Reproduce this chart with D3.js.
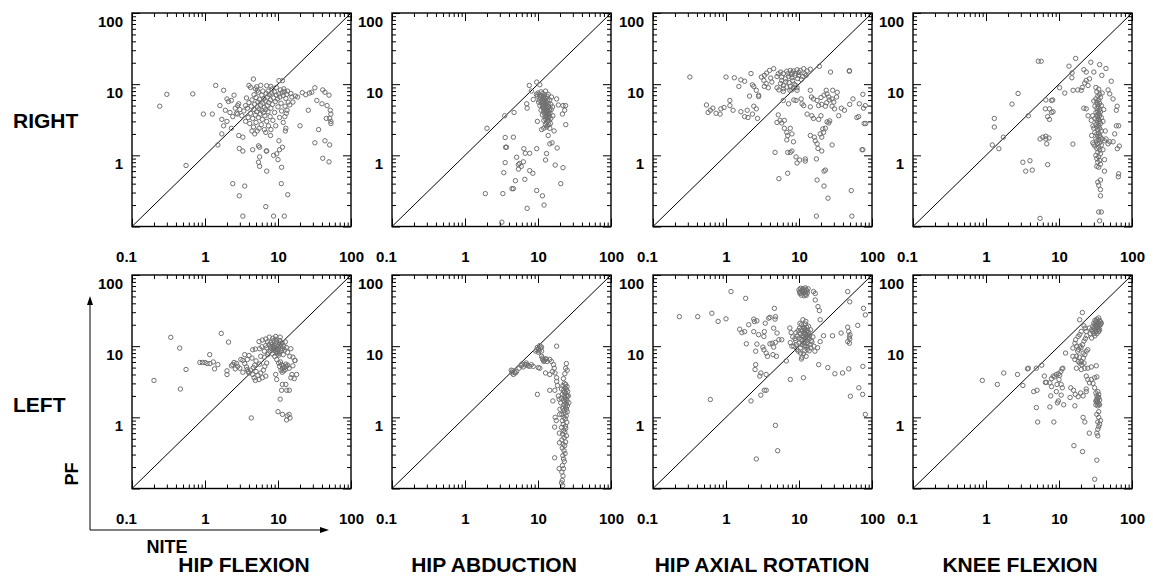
<!DOCTYPE html>
<html><head><meta charset="utf-8">
<script src="https://cdn.jsdelivr.net/npm/d3@7/dist/d3.min.js"></script>
<style>
html,body{margin:0;padding:0;background:#fff;}
text{font-family:"Liberation Sans",Arial,sans-serif;font-weight:bold;fill:#000;}
</style></head>
<body><svg id="chart" width="1153" height="578"></svg>
<script>
const rowLabels = ["RIGHT", "LEFT"];
const colLabels = ["HIP FLEXION", "HIP ABDUCTION", "HIP AXIAL ROTATION", "KNEE FLEXION"];
const xTickValues = [0.1, 1, 10, 100];
const xTickLabels = ["0.1", "1", "10", "100"];
const yTickValues = [1, 10, 100];
const yTickLabels = ["1", "10", "100"];
const xAxisName = "NITE";
const yAxisName = "PF";

// [NITE, PF] pairs
const rightHipFlexion = [[0.24,4.9],[0.3,7.2],[0.68,7.3],[0.55,0.72],[0.95,3.8],[1.26,3.8],[1.4,9.6],[1.6,5],[1.5,1.4],[1.8,8.2],[1.9,4.3],[1.7,3.2],[1.8,2.6],[1.7,2.0],[2.0,6.2],[2.1,5.7],[2.3,5.9],[2.5,7.0],[2.8,5.0],[2.4,3.5],[2.8,3.8],[2.3,2.4],[2.9,1.9],[3.3,1.8],[2.95,1.25],[3.3,1.15],[2.4,0.40],[3.5,0.37],[2.95,0.27],[3.3,0.14],[4.6,11.8],[4.0,9.6],[4.2,9.0],[5.1,9.2],[5.2,8.2],[4.5,1.2],[5.4,1.36],[5.6,1.3],[5.6,0.95],[5.4,0.8],[5.6,0.7],[7,0.6],[6.9,1.15],[8.7,1.0],[9.6,1.05],[10.5,1.2],[11.5,1.3],[10,0.87],[11.2,0.68],[11.1,0.40],[13.6,0.28],[6.8,0.19],[8.7,0.14],[12.2,0.14],[10.3,11.2],[11.5,11.2],[8,9.3],[7.3,8.0],[17.3,6.8],[18.6,6.6],[21.5,7.6],[24,7.1],[27,7.5],[29,7.7],[32,8.9],[41,8.3],[44,7.7],[50,7.0],[34,5.9],[40,5.3],[47,5.0],[52,4.3],[53,3.8],[51,3.3],[53,3.0],[53,2.8],[46,3.3],[36,2.3],[32,1.5],[44,1.6],[51,1.4],[41,0.91],[50,0.81],[26,4.3],[20,2.6],[14.5,5.1],[13.3,4.3],[12.8,2.4],[12.6,2.2],[10.3,1.6],[7.9,1.9],[7,1.15],
[3.2,3.6],[3.4,4.2],[3.6,3.0],[3.8,4.6],[3.9,3.4],[4.0,5.5],[4.1,2.8],[4.2,3.9],[4.3,4.9],[4.4,6.0],[4.5,3.3],[4.6,2.5],[4.7,4.4],[4.8,5.2],[4.9,3.7],[5.0,6.5],[5.0,2.9],[5.1,4.1],[5.2,4.8],[5.3,5.6],[5.4,3.4],[5.5,2.4],[5.5,4.5],[5.6,6.1],[5.7,3.8],[5.8,5.1],[5.9,2.7],[6.0,4.3],[6.0,7.0],[6.1,3.2],[6.2,5.4],[6.3,4.0],[6.4,6.3],[6.5,2.3],[6.5,4.7],[6.6,3.6],[6.7,5.8],[6.8,4.4],[6.9,7.4],[7.0,3.0],[7.1,5.0],[7.2,6.6],[7.3,4.1],[7.4,2.6],[7.5,5.5],[7.6,7.1],[7.8,3.5],[7.9,6.0],[8.0,4.6],[8.2,7.5],[8.4,5.2],[8.5,3.1],[8.7,6.4],[8.9,7.8],[9.0,4.0],[9.2,5.7],[9.5,7.0],[9.8,6.2],[10.0,4.8],[10.3,7.3],[10.6,6.6],[11.0,5.4],[11.4,7.6],[11.8,6.9],[12.3,7.9],[12.8,6.3],[13.2,7.2],[13.8,5.6],[12.5,4.9],[13.0,3.9],[12.4,3.5],[11.8,2.9],[3.6,5.0],[3.0,4.4],[2.7,3.9],[4.4,2.2],[5.2,2.2],[6.8,2.1],[8.0,2.3],[9.3,2.6],[10.5,3.4],[11.2,4.2],[6.2,8.0],[5.4,7.7],[4.7,7.1],[7.0,9.5],[8.3,8.6],[9.5,9.0],[10.8,8.3],[12.0,8.6],[13.5,8.0],[15.0,7.4],[16.0,5.6],[15.5,6.6],[3.7,6.4],[2.9,5.3],[2.6,4.6],[2.2,4.0],[2.0,3.0],[4.9,8.6],[5.8,9.6],[4.8,2.0]];

const rightHipAbduction = [[2.0,2.4],[1.9,0.29],[3.3,0.29],[3.2,0.115],[3.5,3.6],[4.7,4.0],[3.55,1.78],[4.6,1.8],[3.6,1.3],[3.7,1.3],[3.55,0.79],[3.4,0.57],[4.4,0.34],[4.6,0.34],[4.9,0.44],[5.1,0.94],[5.4,0.74],[5.6,0.77],[5.9,0.7],[5.4,0.64],[6.4,1.24],[6.7,1.07],[7.7,1.07],[6.3,0.81],[6.6,0.46],[7.7,0.61],[8.5,0.56],[7.1,0.18],[9.6,0.32],[11.5,0.27],[12.1,0.2],[12.7,0.86],[13.1,1.06],[9.6,1.24],[14.5,1.45],[15.6,1.5],[18.3,1.27],[17.2,0.73],[22,0.67],[20.5,0.4],[7.6,9.6],[9.6,10.7],[10.6,9.8],[8.1,8.0],[8.6,6.1],[7.0,5.3],[7.1,4.6],[9.8,3.0],[11.2,2.3],[13.1,2.5],[16.6,2.2],[13.8,1.9],[15.3,6.6],[18,6.2],[19,5.1],[22,5.0],[23.2,4.3],[23.9,5.0],[21.6,3.8],[24,2.7],
[10.0,7.5],[10.5,7.0],[11.0,7.8],[10.8,6.5],[11.3,6.9],[11.6,7.4],[10.4,6.0],[11.0,5.8],[11.5,6.2],[12.0,6.6],[12.3,7.1],[11.2,5.4],[11.8,5.6],[12.3,5.9],[12.8,6.3],[13.3,6.8],[11.5,5.0],[12.0,5.1],[12.5,5.3],[13.0,5.6],[13.5,5.9],[11.8,4.6],[12.3,4.7],[12.8,4.9],[13.3,5.0],[13.8,5.3],[12.0,4.2],[12.5,4.3],[13.0,4.4],[13.5,4.6],[14.0,4.8],[12.2,3.9],[12.8,3.9],[13.3,4.0],[13.8,4.2],[14.4,4.3],[12.5,3.5],[13.0,3.6],[13.5,3.7],[14.0,3.8],[14.6,3.9],[12.8,3.2],[13.3,3.3],[13.8,3.4],[14.3,3.5],[13.0,2.9],[13.6,3.0],[14.1,3.1],[12.6,2.7],[13.4,2.6],[14.0,2.7],[12.0,3.1],[11.5,3.7],[11.0,4.3],[10.6,5.0],[10.2,5.6],[9.8,6.8],[9.5,7.2],[12.7,8.0],[13.8,7.2],[14.5,6.0],[15.0,5.2],[15.2,4.4],[15.0,3.3],[14.8,2.8],[16.0,3.6],[15.8,4.8],[12.0,2.4],[14.5,2.4]];

const rightHipAxialRotation = [[0.32,12.6],[1.0,12.6],[1.3,12.3],[1.6,11.5],[1.8,11],[1.5,9.3],[2.2,14.1],[2.3,9.8],[2.4,9.3],[0.54,5.1],[0.57,4.0],[0.66,4.6],[0.61,4.3],[0.73,3.9],[0.83,3.8],[0.85,4.5],[0.94,4.7],[1.13,5.9],[1.13,5.0],[1.25,4.3],[1.6,4.1],[1.95,4.3],[1.8,3.5],[2.0,3.4],[2.1,6.8],[2.4,4.9],[2.6,4.5],[2.3,3.8],[2.7,3.3],[2.6,8.2],[2.8,7],[2.8,6.7],[3.05,12.6],[3.3,11.3],[3.35,13.3],[3.6,14.3],[3.95,15.6],[4.5,16.5],[3.55,10.2],[3.35,9.3],[3.8,8.9],[4.25,10.7],[4.1,12.2],
[5.6,14.8],[6.1,14.1],[6.8,15.2],[7.6,15.6],[8.4,15.3],[9.4,15.9],[10.4,15.6],[11.6,16.5],[12.9,15.3],[14.3,16.2],[5.8,12.6],[6.5,11.9],[7.2,12.8],[8.0,12.3],[8.9,13.3],[9.9,13.3],[11.3,12.8],[12.5,13.3],[5.6,10.2],[6.1,9.6],[6.8,9.1],[7.6,9.3],[8.4,8.9],[9.4,8.9],[7.5,8.2],[8.0,8.3],[6.1,8.6],[9.4,8.2],[5.8,11.3],[5.0,8.9],[5.3,8.3],[6.1,7.9],[7.0,14.0],[8.0,14.5],[9.0,14.2],[10.0,14.6],[7.3,10.5],[8.6,10.0],[9.0,9.6],[8.2,11.2],[6.6,10.8],[7.8,13.6],[9.6,12.0],[10.8,11.6],[12.0,14.0],[5.2,14.0],[5.0,12.8],
[6.1,5.9],[5.2,3.7],[5,2.9],[5.5,3.1],[5.8,2.85],[6.3,3.1],[6.3,2.4],[6.8,2.1],[7.6,2.4],[8.0,2.0],[7.0,1.9],[6.8,1.65],[8.4,1.55],[4.7,1.1],[7.0,1.1],[7.6,1.1],[8.0,1.15],[9.1,0.95],[9.4,0.78],[10.2,0.86],[12.2,0.89],[12.2,0.83],[7.0,0.56],[5.3,0.47],[17.3,0.89],[17.7,0.45],[17.3,0.14],[22,0.6],[23,0.62],[22,0.37],[25,0.25],[52,0.32],[53,0.14],[73,1.2],[75,1.2],
[9.1,5.9],[10.7,6.2],[11.0,5.3],[11.6,5.0],[14.3,8.2],[14.8,6.6],[15.8,6.2],[17.7,5.9],[18.6,5.0],[20.5,5.2],[23,4.9],[23.6,8.2],[24.2,7.3],[25.6,6.6],[28.4,6.2],[29,8.2],[33.4,7.7],[32.7,6.6],[28.4,4.9],[30.6,4.5],[35,3.6],[41.9,4.3],[49.5,5.2],[54.9,6.2],[67,5.3],[76.5,4.6],[81,5.0],[65.5,3.5],[62,3.4],[78,2.8],[82,2.8],[75,7.2],
[14.3,4.8],[12.9,3.8],[15,3.6],[15.8,3.3],[18.6,3.2],[20,3.6],[14.3,1.9],[16.2,1.8],[16.7,1.6],[17.7,1.45],[18.2,1.25],[19.5,2.0],[20.5,1.8],[21.7,2.1],[21.2,2.35],[23,2.4],[24.2,2.95],[25.6,2.85],[26.3,3.05],[20.5,1.15],[27,14.8],[19,17.8],[49,15.5],[49,15.2],[28.4,1.4],[22,7.0],[20,6.5],[26,6.0],[24,5.5],[30,5.6],[38,4.6],[8.5,6.0],[7.2,5.3]];

const rightKneeFlexion = [[1.22,1.4],[1.3,3.3],[1.3,2.5],[1.5,1.24],[1.73,1.8],[2.27,5.25],[2.75,7.4],[3.8,3.6],[3.2,0.8],[4.0,0.84],[3.5,0.6],[4.3,0.62],[5.2,21],[5.7,21],[5.5,1.7],[6.0,1.8],[6.6,1.7],[6.8,1.45],[6.6,1.85],[7.3,1.75],[7.0,0.74],[5.5,0.13],[6.6,6.0],[7.9,5.9],[8.2,6.0],[6.5,4.5],[7.4,4.5],[7.0,3.5],[7.4,3.2],[7.9,4.0],[8.3,4.1],[10.2,8.9],[12.0,7.5],[13.7,17.9],[15.1,14.4],[15,12.3],[16.9,23],[21.9,16],[23.6,14.8],[27.3,20.3],[30,14.8],[36,18.8],[38.6,13.3],[44,16.6],[52,11],[15.5,1.44],[15.6,8.2],[18.1,8.3],[20.2,8.2],[21.9,4.6],[23.6,4.5],[25,3.6],[27.7,3.1],[29.2,2.6],[30,1.43],[22.5,10.4],[23.6,11.3],[25,9.6],[26.2,11.9],[20.8,9.0],
[42,0.6],[42,0.87],[47,1.45],[42,1.6],[49.6,1.55],[55,1.55],[58,2.0],[61,2.6],[65.7,2.6],[62.6,4.9],[61,4.3],[63,1.24],[67,1.35],[65,0.5],[65.7,0.55],[55,6.2],[49.6,7.3],[47,8.3],
[37,0.45],[34,0.42],[35,0.38],[37,0.33],[37,0.27],[35,0.16],[38,0.16],[36,0.12],
[32,9.0],[35,8.5],[33,7.8],[36,7.2],[34,6.8],[37,6.5],[32,6.2],[35,6.0],[33,5.6],[36,5.4],[34,5.2],[38,5.0],[31,4.9],[35,4.8],[33,4.6],[36,4.4],[34,4.2],[37,4.1],[32,4.0],[35,3.9],[33,3.7],[36,3.6],[34,3.5],[38,3.4],[31,3.3],[35,3.2],[33,3.1],[36,3.0],[34,2.9],[37,2.8],[32,2.7],[35,2.6],[33,2.5],[36,2.4],[34,2.3],[38,2.2],[31,2.1],[35,2.05],[33,2.0],[36,1.9],[34,1.85],[37,1.8],[32,1.7],[35,1.65],[33,1.6],[36,1.5],[34,1.45],[38,1.4],[31,1.35],[35,1.3],[33,1.25],[36,1.2],[34,1.1],[37,1.05],[32,1.0],[35,0.95],[33,0.9],[36,0.85],[34,0.8],[37,0.75],[33,0.7],[35,0.68],[39,1.7],[40,1.2],[29,1.5],[30,2.4],[40,3.0],[30,5.8],[39,7.5],[41,4.4],[28,1.9],[43,2.2],[44,1.7],[29,3.6]];

const leftHipFlexion = [[0.34,13.3],[0.45,9.4],[0.2,3.3],[0.46,2.5],[0.55,4.7],[1.67,15.1],[2.1,11.4],[1.16,7.6],[0.85,5.9],[0.92,5.9],[1.0,5.9],[1.07,5.7],[1.17,5.7],[1.3,6.0],[1.35,4.8],[1.5,5.5],
[2.0,4.5],[2.0,4.0],[2.3,5.3],[2.5,5.9],[2.7,5.7],[2.8,5.2],[3.0,4.9],[3.1,6.5],[3.3,6.3],[3.5,5.7],[3.7,5.1],[3.8,4.7],[4.0,4.2],[4.5,4.0],[4.7,3.6],[4.9,3.3],[5.5,3.4],[6.1,3.6],[6.8,3.8],[3.5,7.6],[4.0,7.4],[3.8,6.5],[4.5,8.9],[4.9,9.1],[5.5,11.6],[6.1,12.2],[6.8,12.6],[7.6,13.4],[8.5,12.9],[9.3,13.7],[10.7,13.4],[4.3,0.98],
[4.2,4.6],[4.6,5.0],[5.0,4.4],[5.3,3.9],[5.8,4.2],[6.3,4.6],[6.6,5.2],[7.0,5.8],[5.6,5.6],[5.0,6.2],[4.4,6.8],[5.8,7.2],[6.5,7.0],[7.2,7.6],[4.8,5.4],[3.9,4.4],[3.3,4.3],[2.6,4.8],[2.4,5.5],
[7.0,9.5],[7.5,10.5],[7.8,8.5],[8.0,11.2],[8.2,9.2],[8.4,7.8],[8.5,10.0],[8.7,8.8],[8.8,12.0],[9.0,9.5],[9.0,7.2],[9.2,10.8],[9.3,8.4],[9.5,9.0],[9.6,11.5],[9.8,7.8],[10.0,10.0],[10.0,8.8],[10.2,9.4],[10.4,11.0],[10.5,8.0],[10.8,9.8],[11.0,10.5],[11.2,8.6],[11.5,9.2],[11.8,7.6],[12.0,10.0],[12.3,8.8],[6.5,8.5],[6.8,10.2],[7.2,11.5],[7.4,8.0],[7.9,9.8],[8.3,10.6],[8.9,10.2],[9.4,12.5],[10.6,12.0],[11.4,11.2],[12.6,11.5],[13.0,9.6],[13.5,8.2],[8.6,9.6],[9.7,8.2],[10.3,7.5],[6.0,9.8],[5.6,9.2],[14.5,7.2],[16.0,7.0],[15.0,9.2],
[10.5,5.2],[11.0,4.6],[11.2,5.5],[11.5,4.9],[11.8,5.3],[12.0,4.5],[12.3,5.0],[12.6,4.7],[13.0,5.2],[11.4,4.3],[12.8,5.6],[10.8,6.0],[13.6,5.4],[14.2,4.9],[10.2,5.8],[9.6,6.5],[16,5.3],[18,4.0],[15.5,4.0],[17,6.3],
[9.3,4.0],[9.6,3.4],[11.5,2.9],[11.2,2.4],[13.2,2.4],[14.3,2.4],[10.7,1.8],[12.8,2.9],[15,3.6],[16.7,3.5],[10,1.2],[11.5,1.1],[13.4,1.05],[14.2,1.1],[14.6,0.98],[13.1,0.92],[17.1,6.3]];

const leftHipAbduction = [[4.3,4.6],[4.6,4.0],[4.9,4.2],[5.1,4.4],[5.5,4.9],[5.9,5.3],[6.3,5.1],[6.6,5.5],[7.0,5.5],[7.3,5.3],[7.7,5.2],[8.1,5.5],[8.6,5.2],[4.4,4.2],[4.5,4.5],[4.8,4.3],[6.0,5.6],[6.9,5.8],
[9.6,8.9],[10.1,9.1],[10.6,10.2],[11.2,9.7],[11.2,8.5],[10.1,8.2],[9.3,8.5],[10.8,9.4],[9.8,9.6],[10.4,8.6],
[11.2,7.2],[11.6,6.5],[12.0,6.1],[12.6,6.6],[13.3,6.1],[14.5,6.5],[15.3,6.1],[16.3,5.5],[16.7,4.9],[15.8,4.4],[17.1,4.2],[18.0,3.2],[18.0,3.6],[14.5,4.0],[11.5,6.8],[12.2,6.3],[13.0,6.6],[10.1,5.0],[10.6,4.9],[12.7,4.2],[18,10],[9.8,2.1],[14.5,2.4],[17,2.4],
[24.5,5.7],[23.9,4.9],[25.1,4.6],[23.3,4.1],[22.3,3.5],
[23,3.0],[24,2.9],[22,2.8],[25,2.7],[23.5,2.6],[21,2.5],[24.5,2.45],[22.5,2.4],[25.5,2.3],[23,2.25],[24,2.2],[21.5,2.1],[24.8,2.05],[22.8,2.0],[25.2,1.95],[23.5,1.9],[21,1.85],[24.2,1.8],[22.4,1.75],[25,1.7],[23.2,1.65],[20.5,1.6],[24.4,1.55],[22.6,1.5],[25.3,1.45],[23.8,1.4],[21.8,1.35],[24.6,1.3],[22.9,1.25],[25.1,1.2],[23.4,1.15],[21.2,1.1],[24.3,1.05],[22.7,1.0],[23.6,0.95],[21.5,0.9],[24.8,0.85],[22.2,0.8],[23.8,0.75],[21.0,0.72],[24.0,0.7],[22.5,0.66],[23.3,0.62],[21.7,0.58],[24.5,0.55],[22.8,0.52],[21.2,0.48],[23.9,0.45],[22.1,0.42],[23.2,0.4],[21.5,0.37],[22.7,0.34],[23.5,0.31],[21.9,0.29],[22.4,0.26],[23.0,0.24],[21.6,0.21],[22.3,0.19],[21.2,0.17],[22.0,0.15],[21.5,0.13],[21.0,0.12],[21.8,0.11],[19,2.0],[19.5,1.8],[20,1.3],[19.8,1.1],[26,2.0],[26.5,1.6],
[16.9,0.73],[16.9,0.27],[19.5,0.19],[19.7,0.44],[17.2,1.0],[16,1.7],[18.5,2.8],[17.8,0.9],[19.6,0.6]];

const leftHipAxialRotation = [[0.23,26],[0.41,26],[0.64,29],[0.78,22.3],[1.0,24.2],[1.17,58.5],[1.86,47],[0.61,1.78],
[1.54,17.3],[1.65,15.5],[1.8,16],[2.05,20],[2.4,16],[2.45,22.2],[2.65,22.7],[2.4,24],[2.8,14.5],[1.9,10.8],[2.65,10.7],[3.3,13.7],[3.35,16],[3.45,21],[4.0,25.4],[3.85,24.7],[4.6,34],[4.75,26],[4.7,24],[4.5,17.9],[5.0,15.3],[5.3,12.3],[5.8,12.3],[4.75,11.3],[4.5,9.7],[4.3,11],[4.0,10.8],[3.55,8.0],[3.2,9.7],[3.3,8.9],[3.7,7.2],[4.4,7.6],[4.9,7.2],[2.55,8.5],[2.55,5.5],[2.5,4.7],[3.0,4.2],[2.9,3.8],[3.55,4.0],[3.35,2.4],[3.55,2.4],[3.0,2.05],[2.2,1.7],[6.7,6.2],[7.6,3.4],[4.75,0.77],[5.1,0.34],[2.6,0.26],
[10.0,62],[10.5,65],[11.0,60],[11.5,64],[12.0,58],[12.5,62],[13.0,56],[10.3,55],[10.8,52],[11.3,56],[11.8,51],[12.3,54],[12.8,60],[13.3,64],[10.6,58],[11.6,60],[12.2,66],[11.1,63],[12.6,52],[10.2,58],
[15.8,58.5],[16.7,55],[16.7,44.6],[18.2,36],[19,31.6],[19.5,23.5],
[9.0,12],[9.2,10.5],[9.5,14],[9.7,16.5],[10.0,11],[10.0,13],[10.2,18],[10.4,15],[10.5,9.5],[10.7,12.5],[10.8,20],[11.0,14],[11.0,10.5],[11.2,16.5],[11.3,12],[11.5,18.5],[11.5,13.5],[11.6,15.5],[11.8,11.2],[11.9,14.5],[12.0,17],[12.1,12.8],[12.2,20.5],[12.3,15],[12.4,10],[12.5,13.8],[12.6,16],[12.7,18.5],[12.8,12],[12.9,14.6],[13.0,11],[13.2,16.5],[13.3,13.2],[13.5,15.5],[13.7,12.5],[14.0,14],[14.2,10.5],[14.4,17],[14.7,12],[10.6,16.8],[11.7,17.6],[12.4,22.3],[11.3,23.5],[10.3,21],[9.3,9.0],[9.8,8.5],[10.5,8.0],[11.5,7.8],[12.0,8.6],[13.0,9.0],[13.8,8.6],[11.0,7.0],[12.5,7.2],[14.5,9.5],[15.0,11.5],[15.5,13.5],[8.5,10.0],[8.8,12.8],[9.1,15.5],[8.2,13.5],[7.5,18],[7.8,15.5],[7.6,11.2],[8.0,10.0],[11.8,10.1],[13.5,19],[12.9,9.8],[10.8,6.6],[11.5,3.6],
[18.6,5.5],[19.5,11.6],[21.7,14],[24.8,5.0],[28.8,14],[31,4.1],[37.7,15.3],[39.5,4.2],[46.5,18.5],[48,16],[49.6,12.6],[46.5,11.6],[49.1,11],[63.8,19.6],[46.5,58.5],[49.6,42],[76.5,34],[81,27.5],[48,4.8],[75,5.2],[66,2.6],[50.6,1.98],[74.5,2.1],[81,1.1],[49,13.5],[50,14.5],[18,9.5],[16,10],[16.5,8.5]];

const leftKneeFlexion = [[0.89,3.3],[1.43,2.9],[1.75,4.2],[2.7,4.0],[3.2,2.8],[3.7,4.8],[3.8,4.9],[4.9,4.9],[5.8,5.4],[4.5,2.3],[5.0,2.4],[4.9,1.37],[5.1,0.86],
[6.3,3.8],[6.7,3.1],[6.5,3.1],[7.5,3.05],[7.9,3.5],[8.3,3.8],[8.7,3.7],[9.2,4.0],[9.8,4.1],[10.2,3.9],[10.6,4.4],[11.0,4.8],[11.3,4.9],[10.0,3.4],[10.7,2.9],[11.1,2.6],[9.4,2.9],[7.9,2.7],[7.7,2.0],[9.2,2.3],[9.5,1.6],[9.8,1.7],[10.7,2.05],[11.6,1.5],[7.5,1.4],[8.5,0.86],[14.5,2.6],[14.2,1.9],[15.8,2.4],[16.7,2.1],[12.3,8.0],
[15.5,9.4],[16.5,11.0],[16.9,12.3],[18.3,13.7],[19.2,14.5],[20.2,16.1],[20.9,29.7],[19.2,23.5],[22,19.3],[22.8,17.9],[23.6,16.1],[17.3,7.2],[15.5,7.2],[16.5,6.5],[18.3,6.1],[19.2,5.8],[20.2,6.1],[21.4,8.0],[22.6,7.6],[23.6,8.5],[24.8,8.9],[17.3,4.9],[20.2,4.7],[22.6,4.9],[24.8,4.9],[27.7,5.1],[32.4,5.3],[23.6,3.8],[24.8,3.4],[27.7,3.4],[30.8,3.6],[33,3.7],[26.2,3.05],[29.2,3.0],[30.8,2.6],[23.6,2.3],[21.4,2.0],[19.8,2.2],[23.6,2.5],[16.5,1.45],[18.3,1.95],[21.4,1.0],
[18,8.5],[19,7.0],[20,9.5],[21,10.5],[22,11.8],[23,12.8],[24,14.0],[19.5,10.0],[21.5,6.8],[20.5,5.5],[22,5.8],[18.5,9.0],[17.5,10.0],
[29,16],[30,18],[31,20],[32,22],[33,24],[34,19],[35,21],[36,23],[30,15],[31,17],[32,19],[33,18],[34,22],[35,25],[36,17],[37,20],[29,19],[30,21],[31,23],[32,16],[33,20],[34,17],[35,18],[36,20],[28,17],[37,22],[31,14],[33,15],[35,16],[26,18],[27,15],[38,21],[28,13],
[32,2.2],[33,2.0],[34,1.9],[35,2.1],[33,1.8],[32,1.7],[34,1.65],[36,1.75],[33,1.6],[35,1.55],[32,1.5],[34,1.45],[36,1.5],[33,1.7],[35,1.9],[34,2.3],[33,1.1],[35,1.0],[34,0.86],[35,0.74],[34,0.68],[33,0.6],[34,0.55],[26,0.6],[22.6,0.86],[16,0.4],[21,0.33],[33,0.25],[30.8,0.135],[35,1.2],[36,0.8],[37,0.9]];

const panelData = [
  [rightHipFlexion, rightHipAbduction, rightHipAxialRotation, rightKneeFlexion],
  [leftHipFlexion, leftHipAbduction, leftHipAxialRotation, leftKneeFlexion]
];

// ---------- layout ----------
const svg = d3.select("#chart");
const panelLeft = [132, 392, 653, 913];
const panelTop = [13, 275];
const W = 219, H = 213.5;

const minorValues = [];
[0.1, 1, 10].forEach(d => { for (let k = 2; k <= 9; k++) minorValues.push(+(k * d).toPrecision(3)); });

panelData.forEach((row, r) => {
  row.forEach((data, c) => {
    const g = svg.append("g").attr("transform", `translate(${panelLeft[c]},${panelTop[r]})`);
    const x = d3.scaleLog().domain([0.1, 100]).range([0, W]);
    const y = d3.scaleLog().domain([0.1, 100]).range([H, 0]);

    // diagonal
    g.append("line")
      .attr("x1", x(0.1)).attr("y1", y(0.1)).attr("x2", x(100)).attr("y2", y(100))
      .attr("stroke", "#000").attr("stroke-width", 1);

    // points
    g.append("g").selectAll("circle").data(data).join("circle")
      .attr("cx", d => x(d[0])).attr("cy", d => y(d[1])).attr("r", 2.2)
      .attr("fill", "none").attr("stroke", "#707070").attr("stroke-width", 1);

    // tick marks (inward), major + minor on all four sides
    const tickSets = [[xTickValues, 8], [minorValues, 4]];
    tickSets.forEach(([vals, len]) => {
      const mk = (axis, tr) => {
        const a = g.append("g").attr("transform", tr)
          .call(axis.tickValues(vals).tickSize(-len).tickFormat(""));
        a.select(".domain").remove();
        a.selectAll("line").attr("stroke", "#000").attr("stroke-width", 1);
      };
      mk(d3.axisBottom(x), `translate(0,${H})`);
      mk(d3.axisTop(x), `translate(0,0)`);
      mk(d3.axisLeft(y), `translate(0,0)`);
      mk(d3.axisRight(y), `translate(${W},0)`);
    });

    // frame
    g.append("rect").attr("x", 0).attr("y", 0).attr("width", W).attr("height", H)
      .attr("fill", "none").attr("stroke", "#000").attr("stroke-width", 1.4);

    // x tick labels
    const xl = g.append("g").attr("transform", `translate(0,${H})`)
      .call(d3.axisBottom(x).tickValues(xTickValues).tickSize(0).tickPadding(25)
        .tickFormat((d, i) => xTickLabels[i]));
    xl.select(".domain").remove();
    xl.selectAll("text").attr("font-size", 15).attr("font-family", null)
      .attr("dx", (d, i) => i === 0 ? -6 : 0);

    // y tick labels
    const yl = g.append("g")
      .call(d3.axisLeft(y).tickValues(yTickValues).tickSize(0).tickPadding(9)
        .tickFormat((d, i) => yTickLabels[i]));
    yl.select(".domain").remove();
    yl.selectAll("text").attr("font-size", 15).attr("font-family", null).attr("dy", 13);
  });
});

// row labels
const rowLabelY = [128, 412];
rowLabels.forEach((t, r) => {
  svg.append("text").attr("x", 13).attr("y", rowLabelY[r]).attr("font-size", 21).text(t);
});

// column labels
const colCenters = [244, 494, 762, 1020];
colLabels.forEach((t, c) => {
  svg.append("text").attr("x", colCenters[c]).attr("y", 572)
    .attr("text-anchor", "middle").attr("font-size", 21).text(t);
});

// axis-name arrows
const ax = svg.append("g");
ax.append("line").attr("x1", 90).attr("y1", 530).attr("x2", 90).attr("y2", 302).attr("stroke", "#000").attr("stroke-width", 1);
ax.append("path").attr("d", "M90,296 L87,305 L93,305 Z").attr("fill", "#000");
ax.append("line").attr("x1", 90).attr("y1", 530).attr("x2", 322).attr("y2", 530).attr("stroke", "#000").attr("stroke-width", 1);
ax.append("path").attr("d", "M329,530 L320,527 L320,533 Z").attr("fill", "#000");
svg.append("text").attr("transform", "translate(78,474) rotate(-90)")
  .attr("text-anchor", "middle").attr("font-size", 18).text(yAxisName);
svg.append("text").attr("x", 167).attr("y", 553)
  .attr("text-anchor", "middle").attr("font-size", 18).text(xAxisName);
</script></body></html>
